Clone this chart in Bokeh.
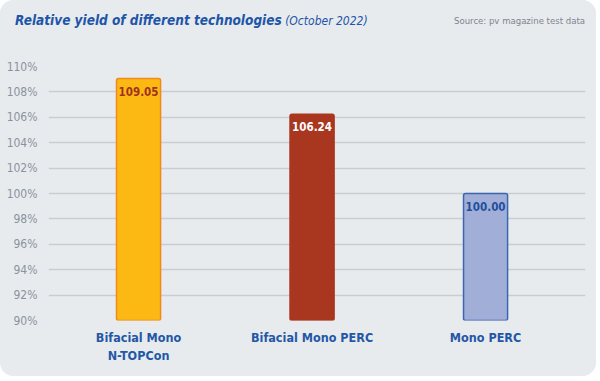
from bokeh.plotting import figure
from bokeh.layouts import column
from bokeh.models import ColumnDataSource, Range1d, FixedTicker, Div
from bokeh.core.properties import value
from bokeh.embed import file_html
from bokeh.resources import INLINE

# ---- data ----
categories = ["Bifacial Mono\nN-TOPCon", "Bifacial Mono PERC", "Mono PERC"]
yields = [109.05, 106.24, 100.00]
value_labels = ["109.05", "106.24", "100.00"]
y_ticks = [90, 92, 94, 96, 98, 100, 102, 104, 106, 108, 110]
title_text = "Relative yield of different technologies"
subtitle_text = "(October 2022)"
source_text = "Source: pv magazine test data"

# ---- styles ----
fills = ["#fdb913", "#a9361f", "#a0aed8"]
outlines = ["#f08a1e", "#a9361f", "#3d66b0"]
label_colors = ["#a0321e", "#ffffff", "#1f4e9c"]

W = 596
HH = 40          # header height
HM = 336         # main chart height
BG = "#e8ebee"
FONT = "DejaVu Sans Condensed"

# ---- header ----
header_html = (
    f'<div style="position:relative;width:{W}px;height:{HH}px;'
    f'font-family:\'{FONT}\';">'
    f'<span style="position:absolute;left:15px;top:11px;white-space:nowrap;'
    f'color:#1d55a8;">'
    f'<span style="font-weight:bold;font-style:italic;font-size:13.5px;">{title_text}</span>'
    f'<span style="font-style:italic;font-size:12px;"> {subtitle_text}</span></span>'
    f'<span style="position:absolute;right:11px;top:14px;white-space:nowrap;'
    f'font-size:9.5px;color:#7d8590;">{source_text}</span>'
    f'</div>'
)
hdr = Div(text=header_html, width=W, height=HH, margin=(0, 0, 0, 0),
          styles={"background-color": BG})

# ---- main chart ----
xs = list(range(len(categories)))
base = [y_ticks[0]] * len(categories)
src = ColumnDataSource(dict(x=xs, top=yields, bottom=base, fill=fills, line=outlines,
                            lab=value_labels, labc=label_colors))

p = figure(width=W, height=HM, output_backend="svg", toolbar_location=None,
           x_range=Range1d(-0.519, 2.576), y_range=Range1d(y_ticks[0], y_ticks[-1]),
           min_border_left=48, min_border_right=W - 585, min_border_top=66 - HH,
           min_border_bottom=HM - (320 - HH), margin=(0, 0, 0, 0))
p.background_fill_color = BG
p.border_fill_color = BG
p.outline_line_color = None

p.vbar(x="x", top="top", bottom="bottom", width=0.254, source=src,
       fill_color="fill", line_color="line", line_width=1.5, border_radius=2)
p.text(x="x", y="top", text="lab", source=src, text_color="labc",
       text_font=value(FONT), text_font_style="bold", text_font_size="11.5px",
       text_align="center", text_baseline="top", y_offset=8)

p.yaxis.ticker = FixedTicker(ticks=y_ticks)
p.yaxis.major_label_overrides = {t: f"{t}%" for t in y_ticks}
p.yaxis.axis_line_color = None
p.yaxis.major_tick_line_color = None
p.yaxis.minor_tick_line_color = None
p.yaxis.major_label_text_color = "#8a939e"
p.yaxis.major_label_text_font = FONT
p.yaxis.major_label_text_font_size = "12px"
p.yaxis.major_label_standoff = 5

p.xaxis.ticker = FixedTicker(ticks=xs)
p.xaxis.major_label_overrides = {i: c for i, c in enumerate(categories)}
p.xaxis.axis_line_color = None
p.xaxis.major_tick_line_color = None
p.xaxis.minor_tick_line_color = None
p.xaxis.major_label_text_color = "#2357a6"
p.xaxis.major_label_text_font = FONT
p.xaxis.major_label_text_font_style = "bold"
p.xaxis.major_label_text_font_size = "12.5px"
p.xaxis.major_label_standoff = 3

p.xgrid.grid_line_color = None
p.ygrid.grid_line_color = "#c9cdd2"
p.ygrid.grid_line_width = 1.5

layout = column(hdr, p, spacing=0,
                styles={"background-color": BG, "border-radius": "14px",
                        "overflow": "hidden", "gap": "0px"})
open("out.html", "w").write(file_html(layout, INLINE))
